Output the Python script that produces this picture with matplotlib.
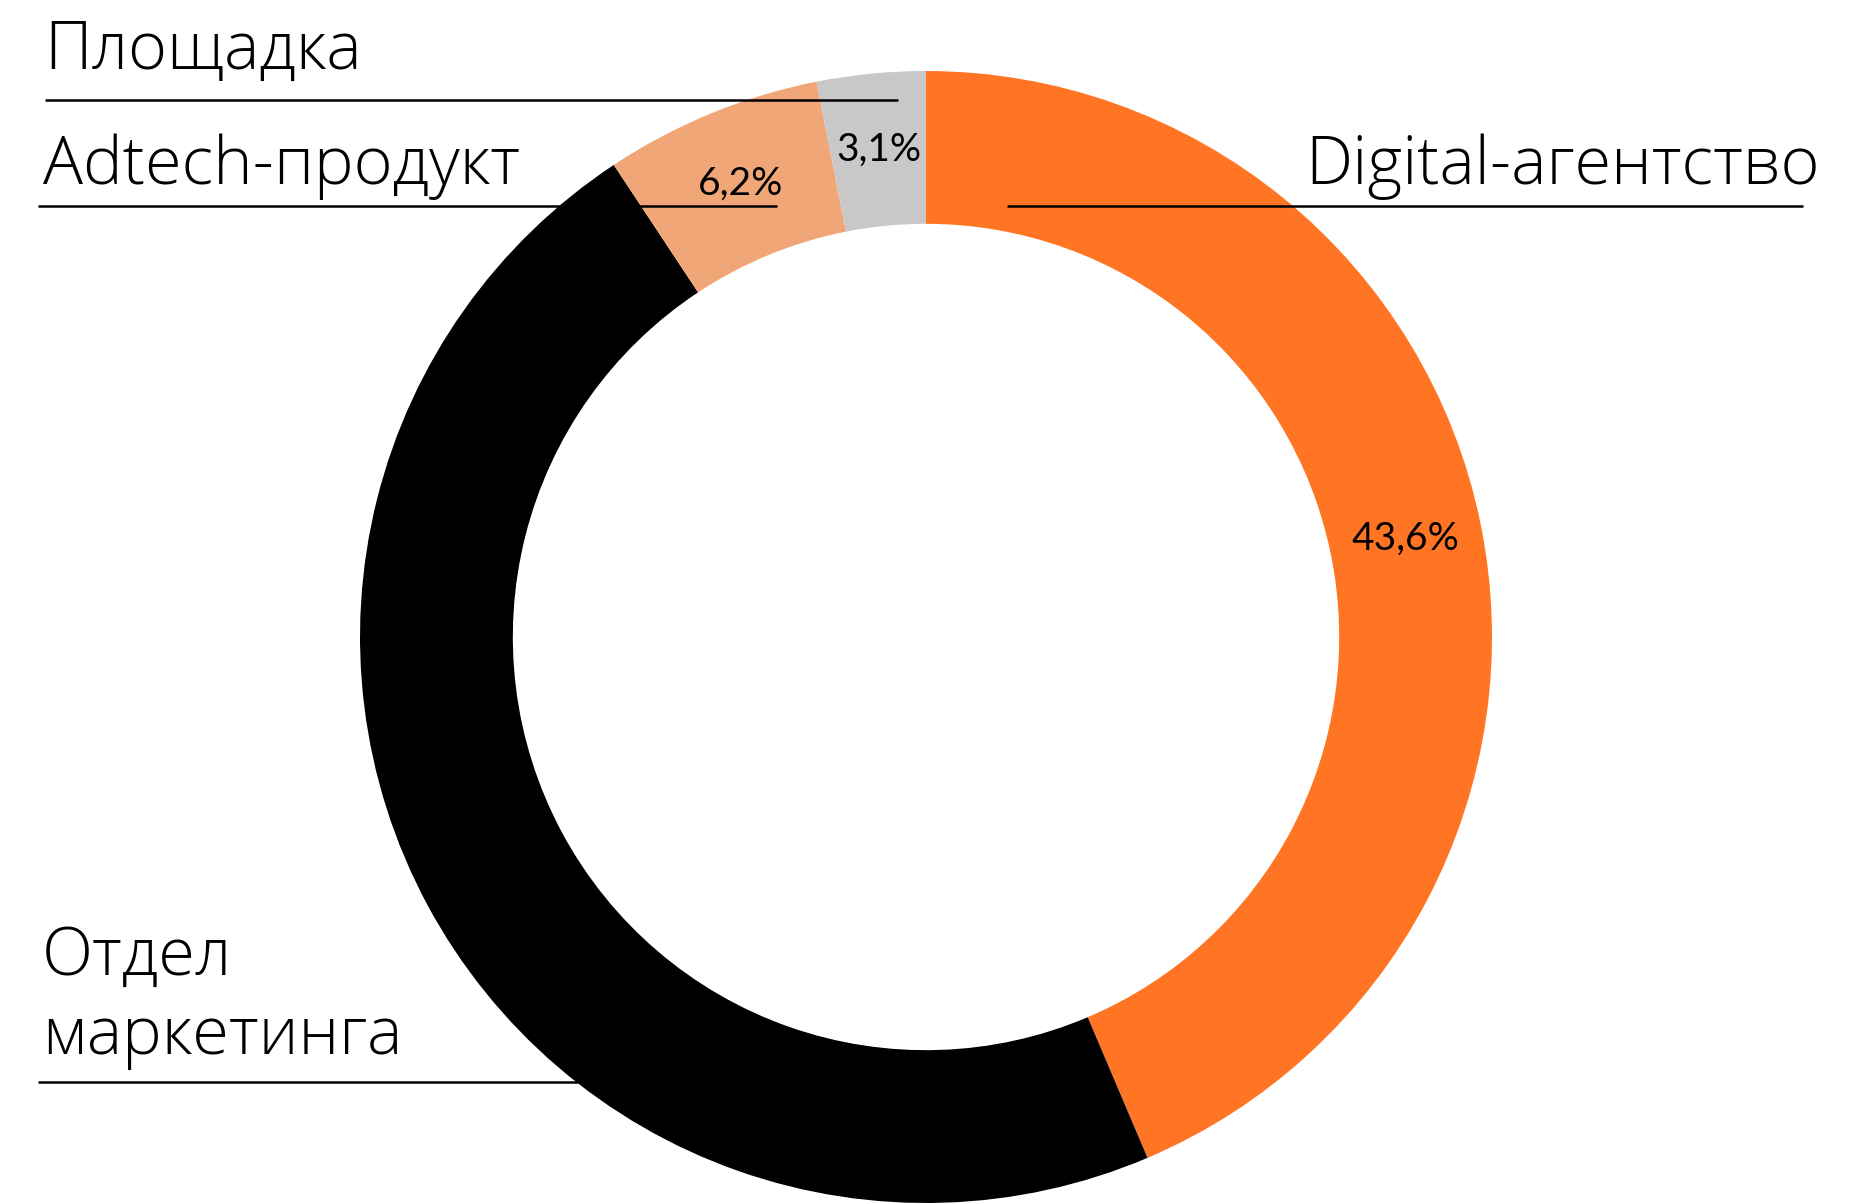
import matplotlib
matplotlib.use("Agg")
import matplotlib.pyplot as plt

W, H = 1871, 1204

categories = ["Digital-агентство", "Отдел маркетинга", "Adtech-продукт", "Площадка"]
shares = [43.6, 47.1, 6.2, 3.1]
colors = ["#FF7524", "#000000", "#F0A677", "#C8C8C8"]

label_font = ["Open Sans", "DejaVu Sans"]
pct_font = ["Lato", "DejaVu Sans"]


def pct_fmt(p):
    return f"{p:.1f}".replace(".", ",") + "%"


fig = plt.figure(figsize=(W / 100, H / 100), dpi=100)
ax = fig.add_axes([0, 0, 1, 1])

r_out = 566
wedges, texts, autotexts = ax.pie(
    shares,
    colors=colors,
    startangle=90,
    counterclock=False,
    radius=r_out,
    center=(926, H - 637),
    wedgeprops=dict(width=r_out * 0.27, linewidth=0),
    autopct=pct_fmt,
    pctdistance=0.865,
    textprops=dict(color="black", fontsize=28, family=pct_font),
)

ax.set_xlim(0, W)
ax.set_ylim(0, H)
ax.set_aspect("equal", adjustable="box")
ax.axis("off")

# category names with underline strokes (image coords: x, baseline y)
def label(txt, x, y, ha="left"):
    ax.text(x, H - y, txt, ha=ha, va="baseline", fontsize=48,
            family=label_font, fontweight="light", color="black", zorder=5)


def rule(x0, x1, y):
    ax.plot([x0, x1], [H - y, H - y], color="black", lw=1.8,
            solid_capstyle="butt", zorder=5)


label(categories[3], 44, 69)
rule(45, 898, 100)

label(categories[2], 43, 184)
rule(38, 777, 206)

label(categories[0], 1820, 184, ha="right")
rule(1007, 1803, 206)

label("Отдел", 42, 975)
label("маркетинга", 42, 1054)
rule(38, 579, 1082)

fig.savefig("out.png", dpi=100)
